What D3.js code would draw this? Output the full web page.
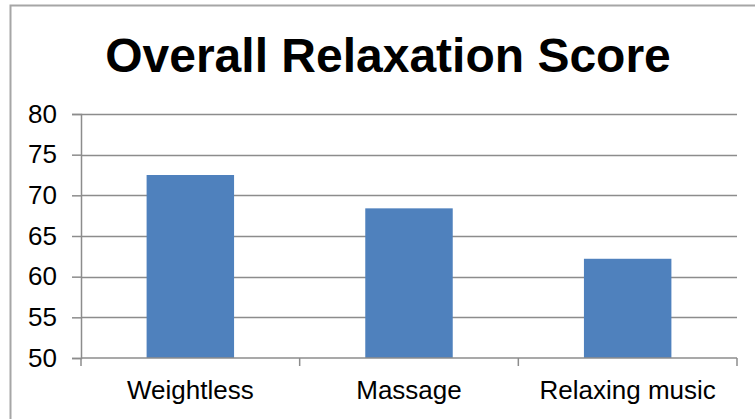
<!DOCTYPE html>
<html>
<head>
<meta charset="utf-8">
<script src="https://cdn.jsdelivr.net/npm/d3@7"></script>
<style>
  body { margin: 0; background: #fff; }
  svg { display: block; font-family: "Liberation Sans", Arial, sans-serif; }
</style>
</head>
<body>
<div id="chart"></div>
<script>
// chart data
const categories = ["Weightless", "Massage", "Relaxing music"];
const scores = [72.5, 68.4, 62.2];
const yTicks = [50, 55, 60, 65, 70, 75, 80];
const title = "Overall Relaxation Score";

const width = 755, height = 419;
const margin = { top: 114, right: 18, bottom: 61, left: 81 };
const plotW = width - margin.left - margin.right;
const plotH = height - margin.top - margin.bottom;

const svg = d3.select("#chart").append("svg").attr("width", width).attr("height", height);

// outer chart frame (runs off the right/bottom edge like the original)
svg.append("rect").attr("x", 10.5).attr("y", 5.5).attr("width", 760).attr("height", 430)
    .attr("fill", "none").attr("stroke", "#a6a6a6").attr("stroke-width", 2);

svg.append("text").attr("x", 388).attr("y", 72).attr("text-anchor", "middle")
    .attr("font-size", 48).attr("font-weight", "bold").attr("fill", "#000").text(title);

const g = svg.append("g").attr("transform", "translate(" + margin.left + "," + margin.top + ")");

const x = d3.scaleBand().domain(categories).range([0, plotW]).paddingInner(0.6).paddingOuter(0.3);
const y = d3.scaleLinear().domain([50, 80]).range([plotH, 0]);

// gridlines
g.append("g").selectAll("line").data(yTicks.slice(1)).enter().append("line")
    .attr("x1", 0).attr("x2", plotW)
    .attr("y1", d => Math.round(y(d)) + 0.5).attr("y2", d => Math.round(y(d)) + 0.5)
    .attr("stroke", "#8c8c8c").attr("stroke-width", 1.5);

// bars
g.selectAll("rect.bar").data(categories).enter().append("rect").attr("class", "bar")
    .attr("x", d => x(d)).attr("width", x.bandwidth())
    .attr("y", (d, i) => y(scores[i])).attr("height", (d, i) => plotH - y(scores[i]))
    .attr("fill", "#4f81bd");

// y axis
const yAxis = g.append("g").call(d3.axisLeft(y).tickValues(yTicks).tickSize(9).tickPadding(15));
yAxis.select(".domain").attr("stroke", "#8c8c8c").attr("stroke-width", 1.5);
yAxis.selectAll(".tick line").attr("stroke", "#8c8c8c").attr("stroke-width", 1.5);
yAxis.selectAll("text").attr("font-size", 26).attr("fill", "#000")
    .attr("font-family", "'Liberation Sans', Arial, sans-serif");

// x axis with dividing ticks between categories
const xAxisG = g.append("g").attr("transform", "translate(0," + plotH + ")");
xAxisG.append("line").attr("x1", 0).attr("x2", plotW).attr("y1", 0).attr("y2", 0)
    .attr("stroke", "#8c8c8c").attr("stroke-width", 1.5);
const step = plotW / categories.length;
xAxisG.selectAll("line.div").data(d3.range(categories.length + 1)).enter().append("line").attr("class", "div")
    .attr("x1", d => d * step).attr("x2", d => d * step).attr("y1", 0).attr("y2", 8)
    .attr("stroke", "#8c8c8c").attr("stroke-width", 1.5);
xAxisG.selectAll("text").data(categories).enter().append("text")
    .attr("x", d => x(d) + x.bandwidth() / 2).attr("y", 41).attr("text-anchor", "middle")
    .attr("font-size", 26).attr("fill", "#000").text(d => d);
</script>
</body>
</html>
